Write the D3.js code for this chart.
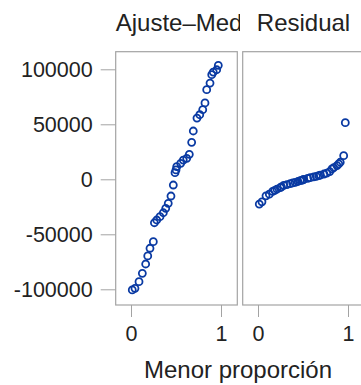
<!DOCTYPE html>
<html>
<head>
<meta charset="utf-8">
<script src="https://cdn.jsdelivr.net/npm/d3@7"></script>
<style>
  body { margin: 0; background: #fff; }
  text { font-family: "Liberation Sans", Arial, sans-serif; fill: #222; }
</style>
</head>
<body>
<div id="chart"></div>
<script>
// Panel titles and axis text.
const panelTitles = [ 'Ajuste\u2013Media', 'Residual' ];
const xLabel = 'Menor proporci\u00f3n';
const yTicks = [ -100000, -50000, 0, 50000, 100000 ];
const xTicks = [ 0, 1 ];

// Proportion less (x) shared by both panels.
const proportions = [ 0.014, 0.044, 0.089, 0.126, 0.163, 0.186, 0.211, 0.248, 0.26, 0.286,
  0.322, 0.359, 0.386, 0.414, 0.444, 0.47, 0.489, 0.50, 0.508, 0.552,
  0.581, 0.619, 0.648, 0.674, 0.692, 0.733, 0.764, 0.797, 0.822, 0.841,
  0.878, 0.897, 0.914, 0.952, 0.970 ];

// Fit minus mean, sorted.
const fitValues = [ -100600, -99100, -93100, -85500, -77000, -69700, -62700, -56700, -39500, -37000,
  -34000, -30400, -26400, -21800, -15200, -5200, 6000, 8500, 11500, 14500,
  17500, 19100, 22700, 33600, 43900, 55700, 58700, 63300, 69400, 81500,
  87500, 95100, 97500, 99600, 103600 ];

// Residuals, sorted.
const residualValues = [ -22500, -20500, -15000, -13500, -11000, -10000, -9000, -7500, -6800, -5500,
  -4800, -4000, -3300, -2800, -2000, -1200, -800, -500, 0, 800,
  1500, 2200, 2700, 3300, 3800, 4800, 5600, 7000, 9500, 10500,
  12500, 14000, 15500, 21500, 51500 ];

const width = 361, height = 385;
const panelW = 121.6, panelGap = 5.4;
const panelTop = 51.7, panelBottom = 305;
const firstPanelX = 115.7;
const xPad = 15.3;   // inset of 0 and 1 inside a panel
const frameColor = '#a3a3a3';
const markerColor = '#0a3aa3';
const fontFamily = '"Liberation Sans", Arial, sans-serif';

const svg = d3.select( '#chart' ).append( 'svg' )
  .attr( 'width', width )
  .attr( 'height', height );

// Y scale, shared.
const yScale = d3.scaleLinear()
  .domain( [ -100000, 100000 ] )
  .range( [ 289.3, 69.3 ] );

// Y axis on the left of first panel.
const yAxis = svg.append( 'g' )
  .attr( 'transform', 'translate(' + firstPanelX + ',0)' )
  .call( d3.axisLeft( yScale )
    .tickValues( yTicks )
    .tickSize( 15 )
    .tickPadding( 8 )
    .tickFormat( d => String( d ) ) );
yAxis.select( '.domain' ).remove();
yAxis.selectAll( 'line' ).attr( 'stroke', frameColor );
yAxis.selectAll( 'text' ).attr( 'font-size', 21.5 ).attr( 'fill', '#222' )
  .attr( 'font-family', fontFamily );

const panels = [
  { title: panelTitles[0], values: fitValues },
  { title: panelTitles[1], values: residualValues }
];

panels.forEach( function( p, i ){
  const x0 = firstPanelX + i * ( panelW + panelGap );
  const xScale = d3.scaleLinear()
    .domain( [ 0, 1 ] )
    .range( [ x0 + xPad, x0 + panelW - xPad - 1 ] );

  // Clip region for title, half the gap on each side.
  const clipId = 'clip' + i;
  svg.append( 'clipPath' ).attr( 'id', clipId )
    .append( 'rect' )
      .attr( 'x', x0 - panelGap / 2 )
      .attr( 'y', 0 )
      .attr( 'width', panelW + panelGap )
      .attr( 'height', panelTop );

  const title = svg.append( 'text' )
    .attr( 'clip-path', 'url(#' + clipId + ')' )
    .attr( 'y', 30.5 )
    .attr( 'font-size', 24 )
    .text( p.title );
  const tw = title.node().getComputedTextLength();
  if( tw > panelW ){
    title.attr( 'x', x0 ).attr( 'text-anchor', 'start' );
  } else {
    title.attr( 'x', x0 + panelW / 2 ).attr( 'text-anchor', 'middle' );
  }

  // Frame.
  svg.append( 'rect' )
    .attr( 'x', x0 )
    .attr( 'y', panelTop )
    .attr( 'width', panelW )
    .attr( 'height', panelBottom - panelTop )
    .attr( 'fill', 'none' )
    .attr( 'stroke', frameColor )
    .attr( 'stroke-width', 1.2 );

  // X axis.
  const xAxis = svg.append( 'g' )
    .attr( 'transform', 'translate(0,' + panelBottom + ')' )
    .call( d3.axisBottom( xScale )
      .tickValues( xTicks )
      .tickSize( 12 )
      .tickPadding( 9 )
      .tickFormat( d3.format( 'd' ) ) );
  xAxis.select( '.domain' ).remove();
  xAxis.selectAll( 'line' ).attr( 'stroke', frameColor );
  xAxis.selectAll( 'text' ).attr( 'font-size', 21.5 ).attr( 'fill', '#222' )
    .attr( 'font-family', fontFamily );

  // Markers.
  svg.append( 'g' ).selectAll( 'circle' )
    .data( p.values )
    .enter()
    .append( 'circle' )
      .attr( 'cx', ( d, j ) => xScale( proportions[j] ) )
      .attr( 'cy', d => yScale( d ) )
      .attr( 'r', 3.5 )
      .attr( 'fill', 'none' )
      .attr( 'stroke', markerColor )
      .attr( 'stroke-width', 1.8 );
});

// X axis label centred under both panels.
svg.append( 'text' )
  .attr( 'x', 238 )
  .attr( 'y', 378 )
  .attr( 'text-anchor', 'middle' )
  .attr( 'font-size', 24 )
  .text( xLabel );
</script>
</body>
</html>
